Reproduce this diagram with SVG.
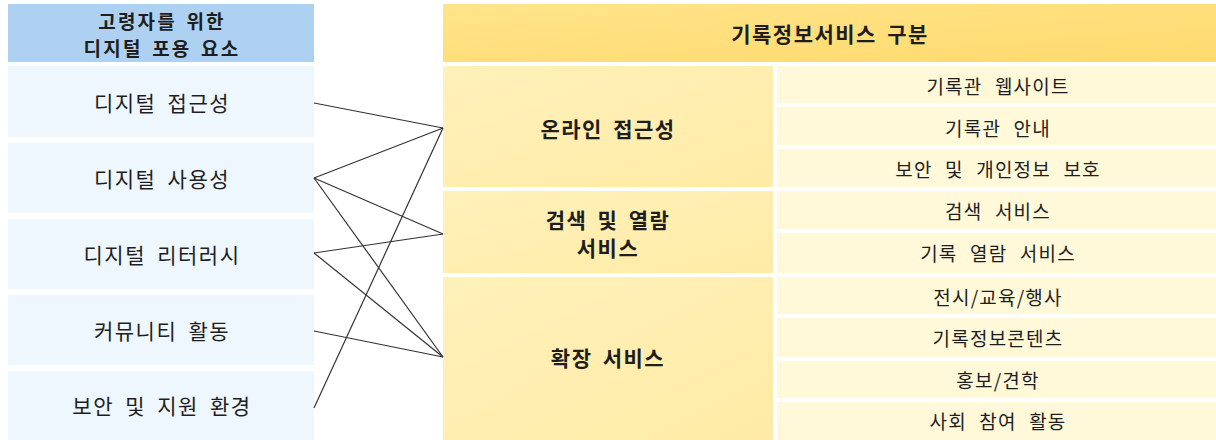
<svg xmlns="http://www.w3.org/2000/svg" width="1216" height="440" viewBox="0 0 1216 440">
<defs>
<linearGradient id="gHead" x1="0" y1="0" x2="1" y2="1"><stop offset="0" stop-color="#FFE48A"/><stop offset="1" stop-color="#FFDA6E"/></linearGradient>
<linearGradient id="gCat" x1="0" y1="0" x2="1" y2="1"><stop offset="0" stop-color="#FFF1BA"/><stop offset="1" stop-color="#FFEBA6"/></linearGradient>
<style>
text{font-family:"Noto Sans CJK KR","Noto Sans",sans-serif;fill:#1e1e1e;text-anchor:middle;dominant-baseline:central}
.lh{fill:#AFD1F1}
.li{fill:#EEF6FE}
.rh{fill:url(#gHead)}
.cat{fill:url(#gCat)}
.sub{fill:#FFF8D9}
.b{font-weight:bold;font-size:21px;letter-spacing:1.5px;word-spacing:4px}
.hb{font-weight:bold;font-size:19px;letter-spacing:2.2px;word-spacing:3px}
.t20{font-size:21px;letter-spacing:1.5px;word-spacing:5px}
.t18{font-size:19px;letter-spacing:1.2px;word-spacing:7px}
.conn line{stroke:#333;stroke-width:1.2}
</style>
</defs>
<g id="left-header"><rect class="lh" x="8" y="4" width="306" height="58"/><text class="hb" x="162" y="20.5">고령자를 위한<tspan x="162" dy="26">디지털 포용 요소</tspan></text></g>
<g id="l1"><rect class="li" x="8" y="66" width="306" height="71"/><text class="t20" x="162" y="102">디지털 접근성</text></g>
<g id="l2"><rect class="li" x="8" y="143" width="306" height="70"/><text class="t20" x="162" y="178">디지털 사용성</text></g>
<g id="l3"><rect class="li" x="8" y="219" width="306" height="70"/><text class="t20" x="162" y="254">디지털 리터러시</text></g>
<g id="l4"><rect class="li" x="8" y="295" width="306" height="70"/><text class="t20" x="162" y="330">커뮤니티 활동</text></g>
<g id="l5"><rect class="li" x="8" y="371" width="306" height="69"/><text class="t20" x="162" y="405">보안 및 지원 환경</text></g>
<g id="right-header"><rect class="rh" x="443" y="4" width="773" height="58"/><text class="b" x="830" y="33">기록정보서비스 구분</text></g>
<g id="c1"><rect class="cat" x="443" y="66" width="330" height="121"/><text class="b" x="608" y="128">온라인 접근성</text></g>
<g id="c2"><rect class="cat" x="443" y="191" width="330" height="82"/><text class="b" x="608" y="219">검색 및 열람<tspan x="608" dy="28">서비스</tspan></text></g>
<g id="c3"><rect class="cat" x="443" y="277" width="330" height="163"/><text class="b" x="608" y="357">확장 서비스</text></g>
<g id="s1"><rect class="sub" x="777" y="66" width="439" height="37"/><text class="t18" x="998" y="85">기록관 웹사이트</text></g>
<g id="s2"><rect class="sub" x="777" y="107" width="439" height="38"/><text class="t18" x="998" y="127">기록관 안내</text></g>
<g id="s3"><rect class="sub" x="777" y="149" width="439" height="38"/><text class="t18" x="998" y="168">보안 및 개인정보 보호</text></g>
<g id="s4"><rect class="sub" x="777" y="191" width="439" height="38"/><text class="t18" x="998" y="210">검색 서비스</text></g>
<g id="s5"><rect class="sub" x="777" y="233" width="439" height="40"/><text class="t18" x="998" y="252">기록 열람 서비스</text></g>
<g id="s6"><rect class="sub" x="777" y="277" width="439" height="37"/><text class="t18" x="998" y="296">전시/교육/행사</text></g>
<g id="s7"><rect class="sub" x="777" y="318" width="439" height="39"/><text class="t18" x="998" y="337">기록정보콘텐츠</text></g>
<g id="s8"><rect class="sub" x="777" y="361" width="439" height="37"/><text class="t18" x="998" y="379">홍보/견학</text></g>
<g id="s9"><rect class="sub" x="777" y="402" width="439" height="38"/><text class="t18" x="998" y="420">사회 참여 활동</text></g>
<g id="connectors" class="conn">
<line x1="314" y1="103" x2="443" y2="128"/>
<line x1="314" y1="178" x2="443" y2="128"/>
<line x1="314" y1="178" x2="443" y2="234"/>
<line x1="314" y1="178" x2="443" y2="357"/>
<line x1="314" y1="253" x2="443" y2="234"/>
<line x1="314" y1="253" x2="443" y2="357"/>
<line x1="314" y1="331" x2="443" y2="357"/>
<line x1="314" y1="408" x2="443" y2="128"/>
</g>
</svg>
